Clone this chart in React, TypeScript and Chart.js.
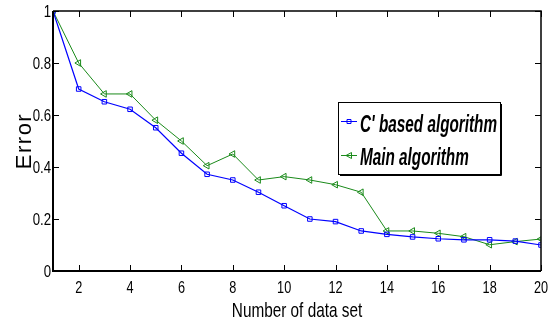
import React, { useEffect, useRef } from "react";
import { Chart, registerables } from "chart.js";

Chart.register(...registerables);

const dataSetNumbers = [1, 2, 3, 4, 5, 6, 7, 8, 9, 10, 11, 12, 13, 14, 15, 16, 17, 18, 19, 20];
const cBasedError = [1.0, 0.70, 0.651, 0.622, 0.551, 0.453, 0.372, 0.35, 0.303, 0.251, 0.20, 0.19, 0.154, 0.141, 0.131, 0.124, 0.12, 0.12, 0.115, 0.10];
const mainError = [1.0, 0.80, 0.681, 0.681, 0.58, 0.50, 0.405, 0.45, 0.35, 0.363, 0.35, 0.332, 0.303, 0.154, 0.154, 0.145, 0.132, 0.101, 0.113, 0.123];
const xTickValues = [2, 4, 6, 8, 10, 12, 14, 16, 18, 20];
const yTickValues = [0, 0.2, 0.4, 0.6, 0.8, 1];
const seriesLabels = ["C' based algorithm", "Main algorithm"];
const xTitle = "Number of data set";
const yTitle = "Error";

const BLUE = "#0000ff";
const GREEN = "#1a8a1a";
const SANS = "'Liberation Sans', Arial, sans-serif";

function drawText(
  ctx: CanvasRenderingContext2D,
  text: string,
  x: number,
  y: number,
  font: string,
  sx: number,
  align: CanvasTextAlign,
  baseline: CanvasTextBaseline
) {
  ctx.save();
  ctx.font = font;
  ctx.translate(x, y);
  ctx.scale(sx, 1);
  ctx.textAlign = align;
  ctx.textBaseline = baseline;
  ctx.fillText(text, 0, 0);
  ctx.restore();
}

const framePlugin = {
  id: "frame",
  afterDraw(chart: any) {
    const { ctx, chartArea } = chart;
    const { left, right, top, bottom } = chartArea;
    const xs = chart.scales.x;
    const ys = chart.scales.y;
    ctx.save();
    ctx.strokeStyle = "#000";
    // frame
    ctx.lineWidth = 2;
    ctx.beginPath();
    ctx.moveTo(left, top);
    ctx.lineTo(left, bottom);
    ctx.lineTo(right, bottom);
    ctx.stroke();
    ctx.lineWidth = 1.5;
    ctx.beginPath();
    ctx.moveTo(left, top);
    ctx.lineTo(right, top);
    ctx.lineTo(right, bottom);
    ctx.stroke();
    // inner ticks
    ctx.lineWidth = 1;
    const tl = 6;
    ctx.beginPath();
    xs.ticks.forEach((t: any) => {
      const px = Math.round(xs.getPixelForValue(t.value)) + 0.5;
      ctx.moveTo(px, bottom);
      ctx.lineTo(px, bottom - tl);
      ctx.moveTo(px, top);
      ctx.lineTo(px, top + tl);
    });
    ys.ticks.forEach((t: any) => {
      const py = Math.round(ys.getPixelForValue(t.value)) + 0.5;
      ctx.moveTo(left, py);
      ctx.lineTo(left + tl, py);
      ctx.moveTo(right, py);
      ctx.lineTo(right - tl, py);
    });
    ctx.stroke();

    // tick labels
    ctx.fillStyle = "#000";
    const tickFont = `16.5px ${SANS}`;
    xs.ticks.forEach((t: any) => {
      drawText(ctx, String(t.value), xs.getPixelForValue(t.value), 293, tickFont, 0.77, "center", "alphabetic");
    });
    ys.ticks.forEach((t: any) => {
      drawText(ctx, String(t.value), left - 2, ys.getPixelForValue(t.value) + 1, tickFont, 0.8, "right", "middle");
    });

    // axis titles
    drawText(ctx, xTitle, (left + right) / 2, 316.5, `21px ${SANS}`, 0.73, "center", "alphabetic");

    ctx.save();
    ctx.translate(25, (top + bottom) / 2);
    ctx.rotate(-Math.PI / 2);
    ctx.font = `22px ${SANS}`;
    (ctx as any).letterSpacing = "1.5px";
    ctx.textAlign = "center";
    ctx.textBaseline = "middle";
    ctx.fillText(yTitle, 0, 0);
    ctx.restore();

    // legend
    const bx = 338, by = 102, bw = 162, bh = 72;
    ctx.fillStyle = "#fff";
    ctx.fillRect(bx, by, bw, bh);
    ctx.strokeStyle = "#000";
    ctx.lineWidth = 1;
    ctx.strokeRect(bx + 0.5, by + 0.5, bw, bh);
    ctx.beginPath();
    ctx.moveTo(bx + bw + 1.5, by + 2);
    ctx.lineTo(bx + bw + 1.5, by + bh + 1.5);
    ctx.lineTo(bx + 2, by + bh + 1.5);
    ctx.stroke();

    const rows = [{ line: 121.5, base: 131.5 }, { line: 155.5, base: 165 }];
    chart.data.datasets.forEach((ds: any, i: number) => {
      const cy = rows[i].line;
      ctx.strokeStyle = ds.borderColor;
      ctx.lineWidth = 1;
      ctx.beginPath();
      ctx.moveTo(bx + 3, cy);
      ctx.lineTo(bx + 19, cy);
      ctx.stroke();
      const cx = bx + 11;
      ctx.beginPath();
      if (i === 0) {
        ctx.rect(cx - 2, cy - 2, 4, 4);
      } else {
        ctx.moveTo(cx - 3, cy);
        ctx.lineTo(cx + 2.5, cy - 3);
        ctx.lineTo(cx + 2.5, cy + 3);
        ctx.closePath();
      }
      ctx.stroke();
      ctx.fillStyle = "#000";
      drawText(ctx, ds.label, bx + 22, rows[i].base, `italic bold 23px ${SANS}`, 0.665, "left", "alphabetic");
    });
    ctx.restore();
  },
};

export default function App() {
  const ref = useRef<HTMLCanvasElement>(null);
  useEffect(() => {
    document.body.style.margin = "0";
    const canvas = ref.current!;
    const chart = new Chart(canvas, {
      type: "line",
      data: {
        datasets: [
          {
            label: seriesLabels[0],
            data: dataSetNumbers.map((x, i) => ({ x, y: cBasedError[i] })),
            borderColor: BLUE,
            backgroundColor: "rgba(0,0,0,0)",
            borderWidth: 1.2,
            pointStyle: "rect",
            pointRadius: 3.2,
            pointBorderWidth: 1,
            pointBorderColor: BLUE,
            pointBackgroundColor: "rgba(0,0,0,0)",
            tension: 0,
          },
          {
            label: seriesLabels[1],
            data: dataSetNumbers.map((x, i) => ({ x, y: mainError[i] })),
            borderColor: GREEN,
            backgroundColor: "rgba(0,0,0,0)",
            borderWidth: 1,
            pointStyle: "triangle",
            rotation: -90,
            pointRadius: 3.8,
            pointBorderWidth: 1,
            pointBorderColor: GREEN,
            pointBackgroundColor: "rgba(0,0,0,0)",
            tension: 0,
          } as any,
        ],
      },
      options: {
        animation: false,
        responsive: false,
        events: [],
        layout: { padding: { top: 11, right: 14, left: 0, bottom: 0 } },
        plugins: { legend: { display: false }, tooltip: { enabled: false } },
        scales: {
          x: {
            type: "linear",
            min: 1,
            max: 20,
            grid: { display: false },
            border: { display: false },
            afterBuildTicks: (s: any) => {
              s.ticks = xTickValues.map((v) => ({ value: v }));
            },
            afterFit: (s: any) => {
              s.height = 58;
            },
            ticks: { display: false },
          },
          y: {
            type: "linear",
            min: 0,
            max: 1,
            grid: { display: false },
            border: { display: false },
            afterBuildTicks: (s: any) => {
              s.ticks = yTickValues.map((v) => ({ value: v }));
            },
            afterFit: (s: any) => {
              s.width = 53;
            },
            ticks: { display: false },
          },
        },
      },
      plugins: [framePlugin],
    });
    return () => chart.destroy();
  }, []);
  return (
    <div style={{ width: 555, height: 329 }}>
      <canvas ref={ref} width={555} height={329} />
    </div>
  );
}
